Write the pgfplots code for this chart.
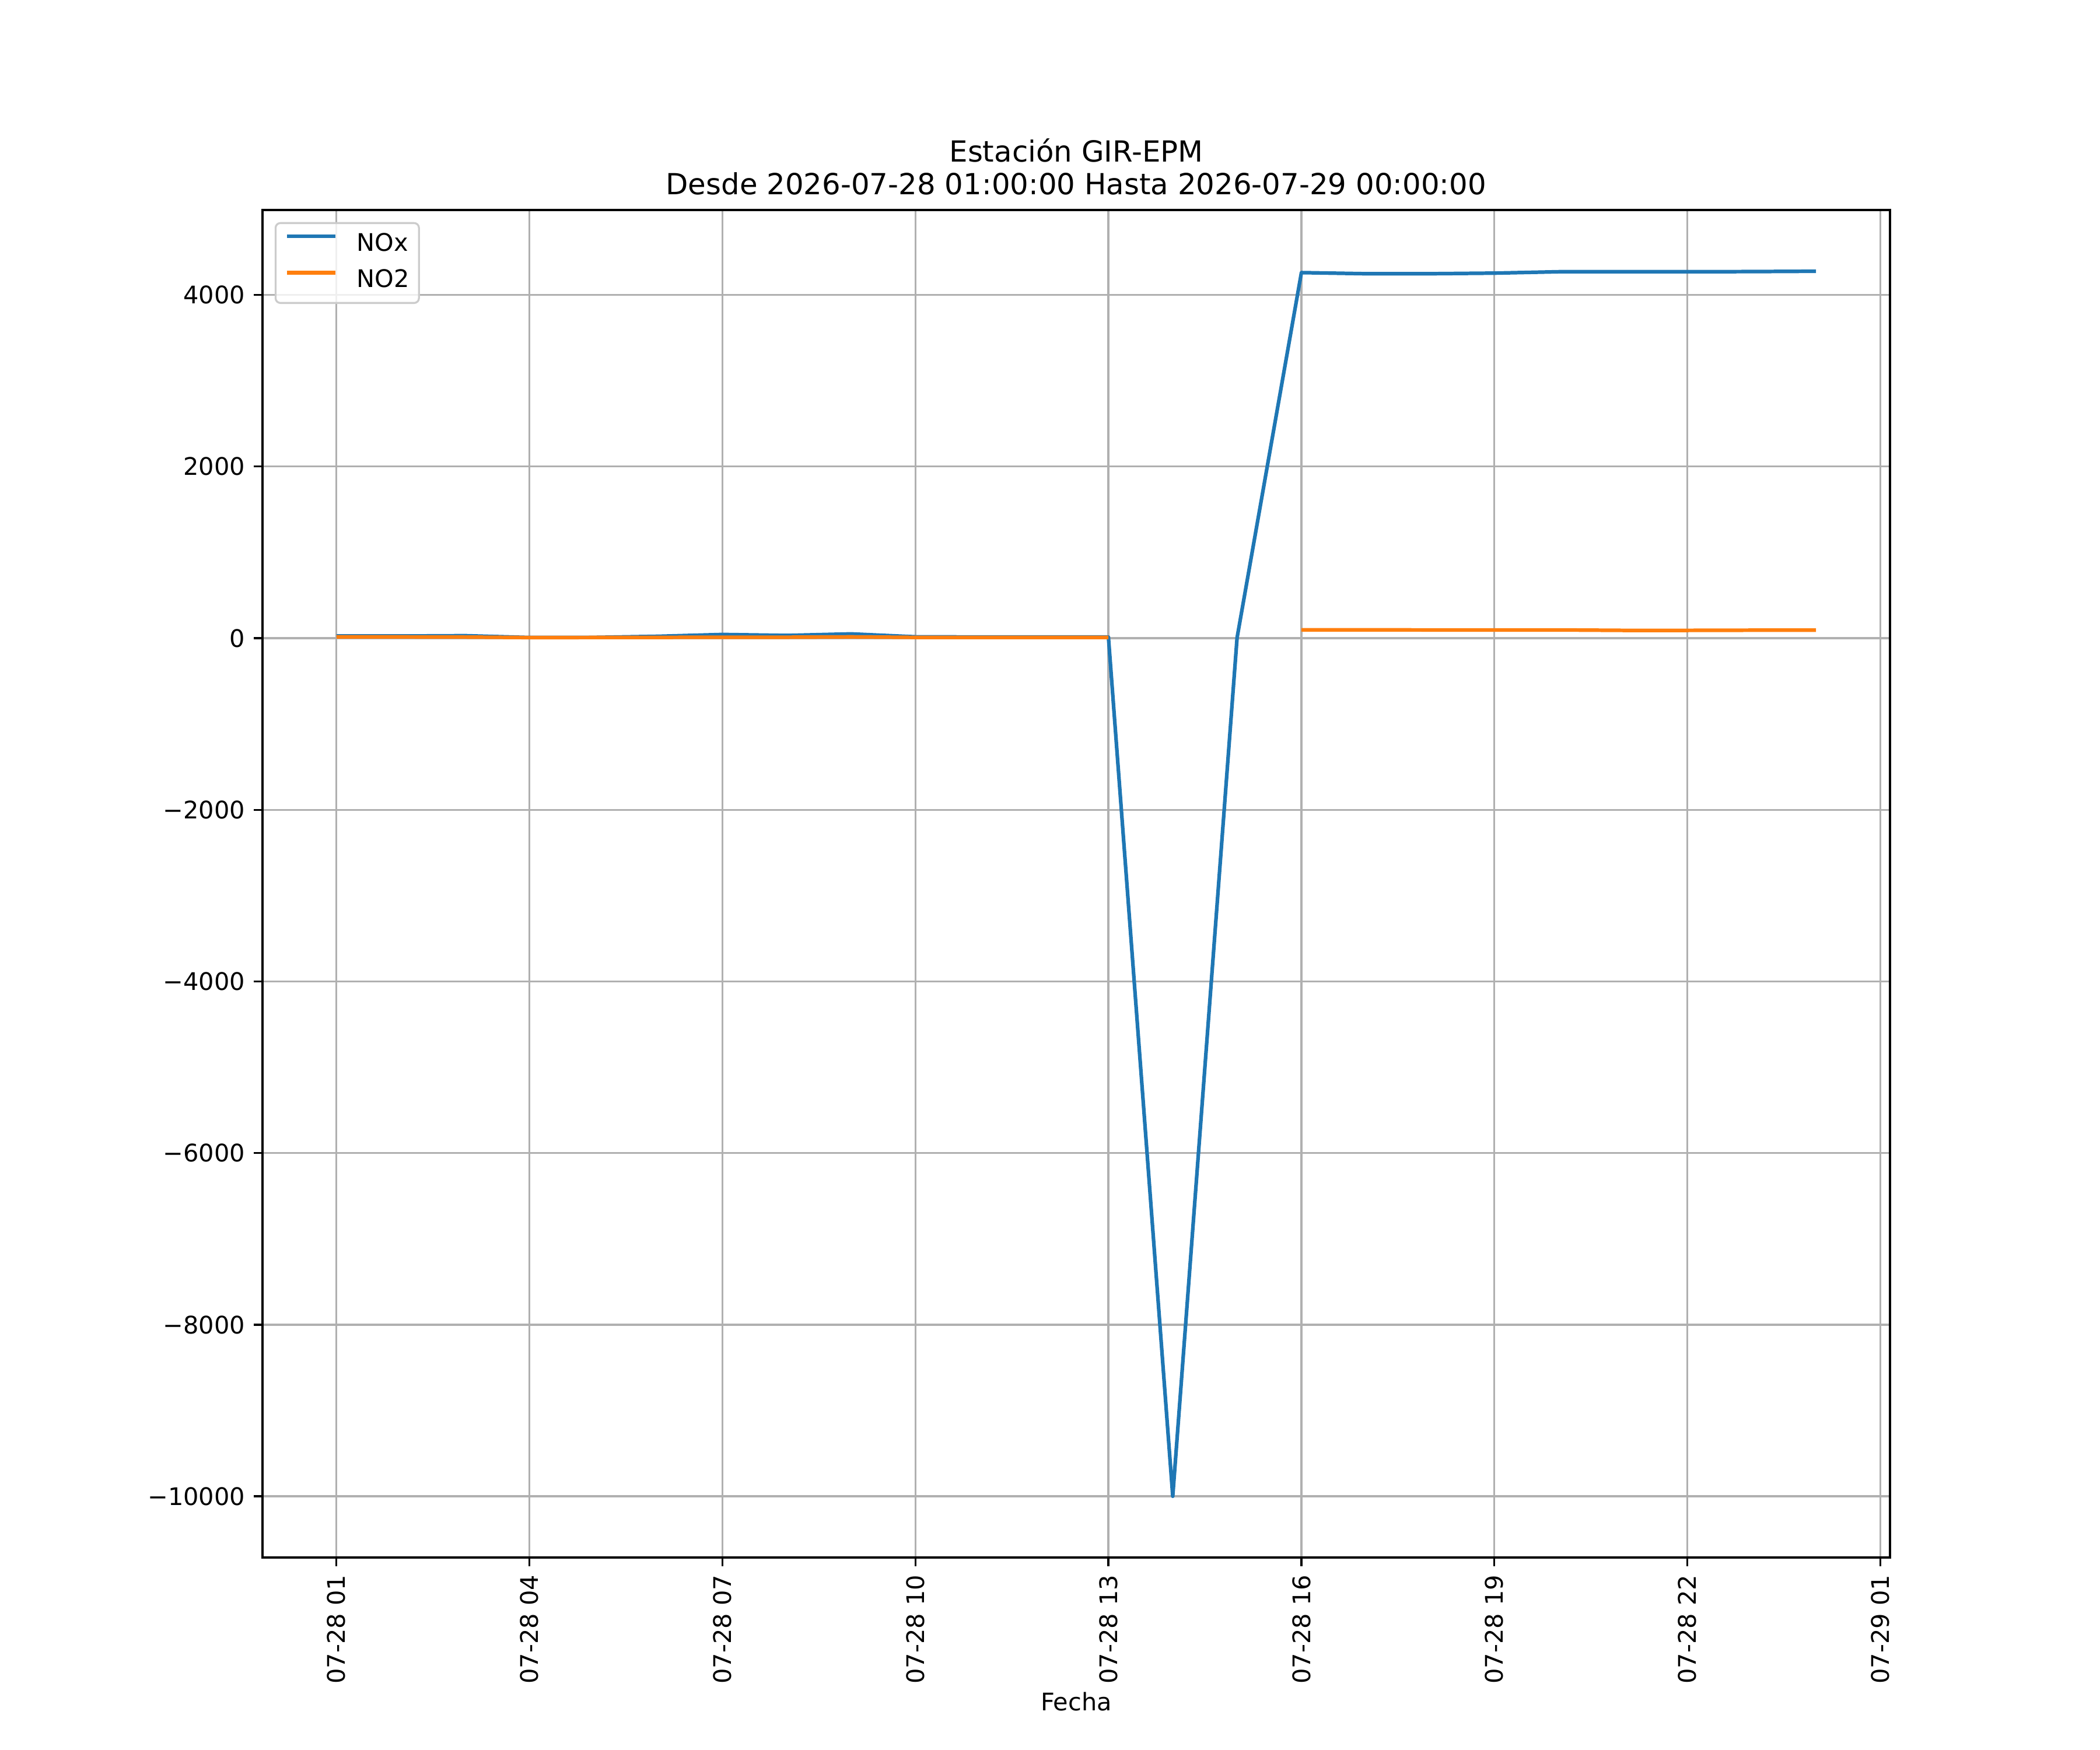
\documentclass[border=0pt]{standalone}
\usepackage{fontspec}
\setmainfont{DejaVu Sans}
\usepackage{pgfplots}
\pgfplotsset{compat=1.18}
\definecolor{mplblue}{HTML}{1F77B4}
\definecolor{mplorange}{HTML}{FF7F0E}
\definecolor{gridgray}{HTML}{B0B0B0}
\definecolor{legendedge}{HTML}{CCCCCC}
\begin{document}
\fontsize{10}{12}\selectfont
\begin{tikzpicture}
\begin{axis}[
  scale only axis, width=9.3in, height=7.7in,
  at={(0,0)}, anchor=south west,
  xmin=-0.15, xmax=25.15, ymin=-10712.75, ymax=4989.75,
  scaled y ticks=false, scaled x ticks=false,
  xtick={1,4,7,10,13,16,19,22,25},
  xticklabels={07-28 01,07-28 04,07-28 07,07-28 10,07-28 13,07-28 16,07-28 19,07-28 22,07-29 01},
  ytick={-10000,-8000,-6000,-4000,-2000,0,2000,4000},
  yticklabels={−10000,−8000,−6000,−4000,−2000,0,2000,4000},
  xtick pos=left, ytick pos=left,
  tick align=outside, major tick length=3.5pt,
  every tick/.style={black, line width=0.8pt},
  axis line style={line width=0.8pt},
  grid=major, major grid style={gridgray, line width=0.8pt},
  xticklabel shift=3.5pt, yticklabel shift=3.5pt,
  xticklabel style={rotate=90, anchor=east, inner sep=0pt, font=\fontsize{10}{12}\selectfont},
  yticklabel style={anchor=east, inner sep=0pt, font=\fontsize{10}{12}\selectfont},
  xlabel={Fecha},
  xlabel style={font=\fontsize{10}{12}\selectfont},
  title={Estación GIR-EPM\\Desde 2026-07-28 01:00:00 Hasta 2026-07-29 00:00:00},
  title style={align=center, font=\fontsize{12}{13.5}\selectfont, inner sep=0pt},
  legend style={at={(0,1)}, anchor=north west, xshift=5pt, yshift=-5pt,
    draw=legendedge, line width=0.8pt, rounded corners=2pt, fill=white, fill opacity=0.8, text opacity=1,
    inner xsep=4pt, inner ysep=4pt, row sep=5pt, column sep=8pt,
    font=\fontsize{10}{12}\selectfont,
    nodes={inner sep=0pt, text height=7.5pt, text depth=2.5pt}},
  legend cell align=left,
  legend image code/.code={\draw[#1] (0pt,3.5pt) -- (20pt,3.5pt);},
  unbounded coords=jump,
]
\addplot[mplblue, line width=1.5pt, line join=round] coordinates {
(1,25) (2,25) (3,29) (4,8) (5,9) (6,22) (7,43) (8,32) (9,50) (10,16) (11,14) (12,14) (13,13)
(14,-9999) (15,5) (16,4260) (17,4247) (18,4247) (19,4254) (20,4270) (21,4270) (22,4270) (23,4272) (24,4276)
};
\addlegendentry{NOx}
\addplot[mplorange, line width=1.5pt, line join=round] coordinates {
(1,15) (2,15) (3,13) (4,7) (5,8) (6,9) (7,11) (8,11) (9,15) (10,9) (11,9) (12,9) (13,9)
(14,nan) (15,nan) (16,97) (17,97) (18,96) (19,96) (20,96) (21,91) (22,91) (23,93) (24,93)
};
\addlegendentry{NO2}
\end{axis}
\pgfresetboundingbox
\path[use as bounding box] (-1.5in,-1.1in) rectangle (10.5in,8.9in);
\end{tikzpicture}
\end{document}
